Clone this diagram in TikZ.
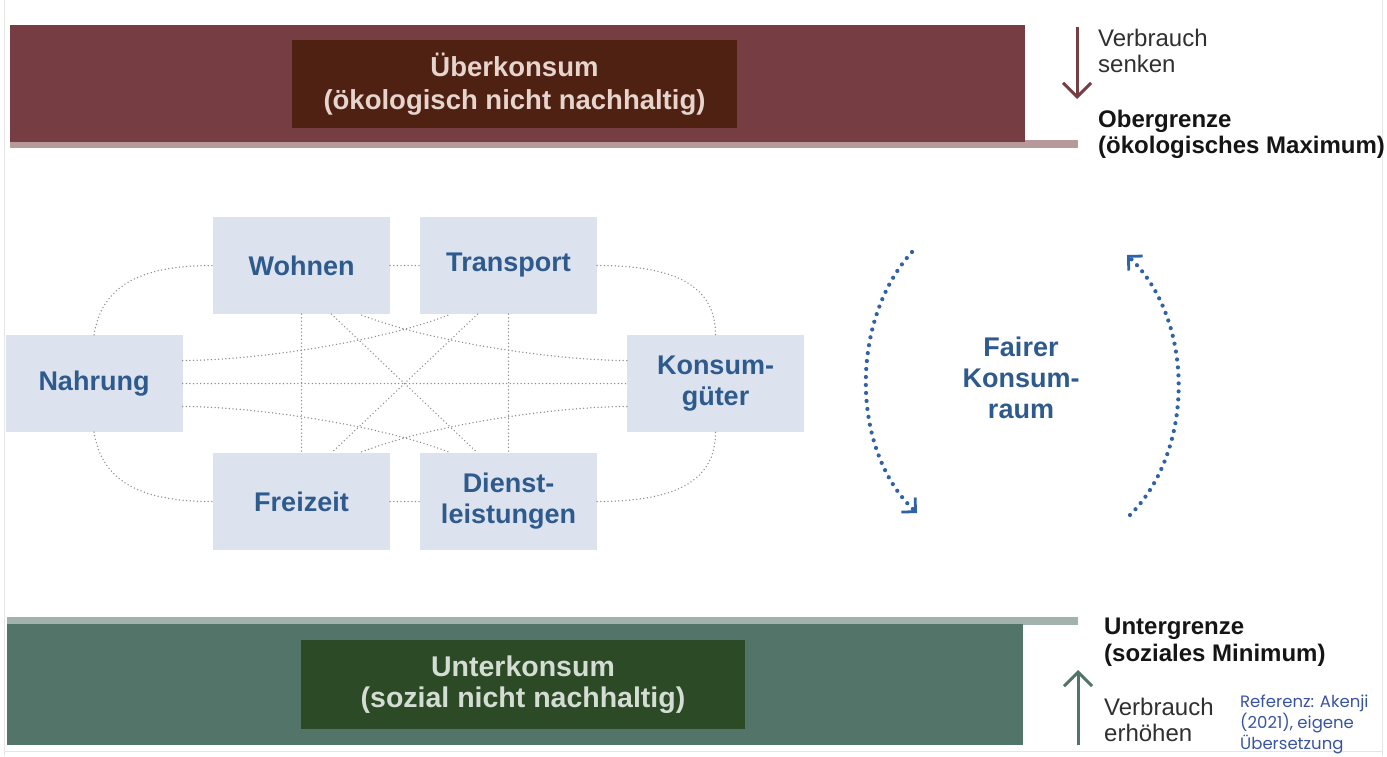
\documentclass[tikz,border=0pt]{standalone}
\usepackage{fontspec}
\setmainfont{Liberation Sans}
\newfontfamily\reffont{Poppins}
\usetikzlibrary{arrows.meta,calc}
\definecolor{barred}{HTML}{763D42}
\definecolor{barredline}{HTML}{B8999B}
\definecolor{darkbrown}{HTML}{4F2112}
\definecolor{lighttext}{HTML}{E6D4CD}
\definecolor{bargreen}{HTML}{537468}
\definecolor{bargreenline}{HTML}{A2B2AC}
\definecolor{darkgreen}{HTML}{2B4A25}
\definecolor{lightgreentext}{HTML}{D3DDD3}
\definecolor{boxfill}{HTML}{DDE3EE}
\definecolor{boxtext}{HTML}{2E5A8E}
\definecolor{dotgray}{HTML}{8C8C8C}
\definecolor{arcblue}{HTML}{2F62A8}
\definecolor{refblue}{HTML}{3A55A0}
\definecolor{sidetext}{HTML}{303030}
\definecolor{sidebold}{HTML}{151515}
\definecolor{framegray}{HTML}{E6E6E6}
\begin{document}
\begin{tikzpicture}[x=1pt,y=-1pt,
  catbox/.style={fill=boxfill, minimum width=177pt, minimum height=97pt, inner sep=0pt,
    text=boxtext, font=\fontsize{27}{31}\selectfont\bfseries, align=center},
  titlebox/.style={minimum height=88pt, inner sep=0pt, align=center},
  link/.style={draw=dotgray, line width=1.5pt, line cap=round, dash pattern=on 0pt off 3.6pt},
  cyc/.style={draw=arcblue, line width=4.2pt, line cap=round, dash pattern=on 0pt off 8pt,
    -{Straight Barb[length=10pt,width=20pt,line width=2.8pt]}},
  sidelabel/.style={anchor=base west, inner sep=0pt, font=\fontsize{24}{27}\selectfont, text=sidetext},
  sideboldlabel/.style={anchor=base west, inner sep=0pt, font=\fontsize{24}{27}\selectfont\bfseries, text=sidebold},
  reflabel/.style={anchor=base west, inner sep=0pt, font=\reffont\fontsize{16.5}{22}\selectfont, text=refblue},
  bigarrow/.style={line width=3pt, -{Straight Barb[length=14pt,width=28pt,line width=3pt]}}
]
\useasboundingbox (0,0) rectangle (1387,756);
\fill[white] (0,0) rectangle (1387,756);
% faint frame of the screenshot
\draw[framegray, line width=1pt] (4,0) -- (4,756);
\draw[framegray, line width=1pt] (1382,0) -- (1382,756);
\draw[framegray, line width=1pt] (4,751) -- (1382,751);

% top band
\fill[barredline] (10,140) rectangle (1078,148);
\fill[barred] (10,25) rectangle (1025,142);
\node[titlebox, minimum width=445pt, fill=darkbrown, text=lighttext,
  font=\fontsize{27.5}{33}\selectfont\bfseries] (ueber) at (514.5,84) {Überkonsum\\(ökologisch nicht nachhaltig)};

% bottom band
\fill[bargreenline] (7,617) rectangle (1078,625);
\fill[bargreen] (7,624) rectangle (1023,745);
\node[titlebox, minimum width=444pt, minimum height=89pt, fill=darkgreen, text=lightgreentext,
  font=\fontsize{28.5}{31}\selectfont\bfseries] (unter) at (523,684.5) {Unterkonsum\\(sozial nicht nachhaltig)};

% right-hand labels, top
\coordinate (topA) at (1077,27);
\coordinate (topB) at (1077,99);
\draw[bigarrow, barred] (topA) -- (topB);
\node[sidelabel] (vs1) at (1098,46) {Verbrauch};
\node[sidelabel] (vs2) at (1098,72) {senken};
\node[sideboldlabel] (og1) at (1098,127) {Obergrenze};
\node[sideboldlabel] (og2) at (1098,153) {(ökologisches Maximum)};

% right-hand labels, bottom
\node[sideboldlabel] (ug1) at (1104,634) {Untergrenze};
\node[sideboldlabel] (ug2) at (1104,661) {(soziales Minimum)};
\coordinate (botA) at (1078,745);
\coordinate (botB) at (1078,670);
\draw[bigarrow, bargreen] (botA) -- (botB);
\node[sidelabel] (ve1) at (1104,715) {Verbrauch};
\node[sidelabel] (ve2) at (1104,741) {erhöhen};
\node[reflabel] (ref1) at (1240,707) {Referenz: Akenji};
\node[reflabel] (ref2) at (1240,728) {(2021), eigene};
\node[reflabel] (ref3) at (1240,749) {Übersetzung};

% consumption domains
\node[catbox] (wohnen) at (301.5,265.5) {Wohnen};
\node[catbox] (transport) at (508.5,265.5) {Transport};
\node[catbox] (nahrung) at (94,383.5) {Nahrung};
\node[catbox] (konsum) at (715.5,383.5) {Konsum-\\güter};
\node[catbox] (freizeit) at (301.5,501.5) {Freizeit};
\node[catbox] (dienst) at (508.5,501.5) {Dienst-\\leistungen};

% dotted connections
\draw[link] (nahrung.north) .. controls +(8,-48) and +(-75,0) .. (wohnen.west);
\draw[link] (nahrung.south) .. controls +(8,48) and +(-75,0) .. (freizeit.west);
\draw[link] (transport.east) .. controls +(80,0) and +(0,-48) .. (konsum.north);
\draw[link] (dienst.east) .. controls +(80,0) and +(0,48) .. (konsum.south);
\draw[link] (wohnen.east) -- (transport.west);
\draw[link] (freizeit.east) -- (dienst.west);
\draw[link] (wohnen.south) -- (freizeit.north);
\draw[link] (transport.south) -- (dienst.north);
\draw[link] (nahrung.east) -- (konsum.west);
\draw[link] ($(nahrung.east)+(0,-23)$) .. controls +(70,0) and +(-70,28) .. ($(transport.south)+(-58,0)$);
\draw[link] ($(nahrung.east)+(0,23)$) .. controls +(70,0) and +(-70,-28) .. ($(dienst.north)+(-58,0)$);
\draw[link] ($(konsum.west)+(0,-23)$) .. controls +(-70,0) and +(70,28) .. ($(wohnen.south)+(58,0)$);
\draw[link] ($(konsum.west)+(0,23)$) .. controls +(-70,0) and +(70,-28) .. ($(freizeit.north)+(58,0)$);
\draw[link] ($(wohnen.south)+(30,0)$) -- ($(dienst.north)+(-31,0)$);
\draw[link] ($(transport.south)+(-31,0)$) -- ($(freizeit.north)+(30,0)$);

% fair consumption space
\node[text=boxtext, font=\fontsize{27}{31}\selectfont\bfseries, align=center, inner sep=0pt] (fair) at (1021,378) {Fairer\\Konsum-\\raum};
\coordinate (la) at (912,252);
\coordinate (lb) at (917,513);
\draw[cyc] (la) .. controls (850,320) and (850,450) .. (lb);
\coordinate (ra) at (1130,515);
\coordinate (rb) at (1127,255);
\draw[cyc] (ra) .. controls (1195,450) and (1195,320) .. (rb);
\end{tikzpicture}
\end{document}
